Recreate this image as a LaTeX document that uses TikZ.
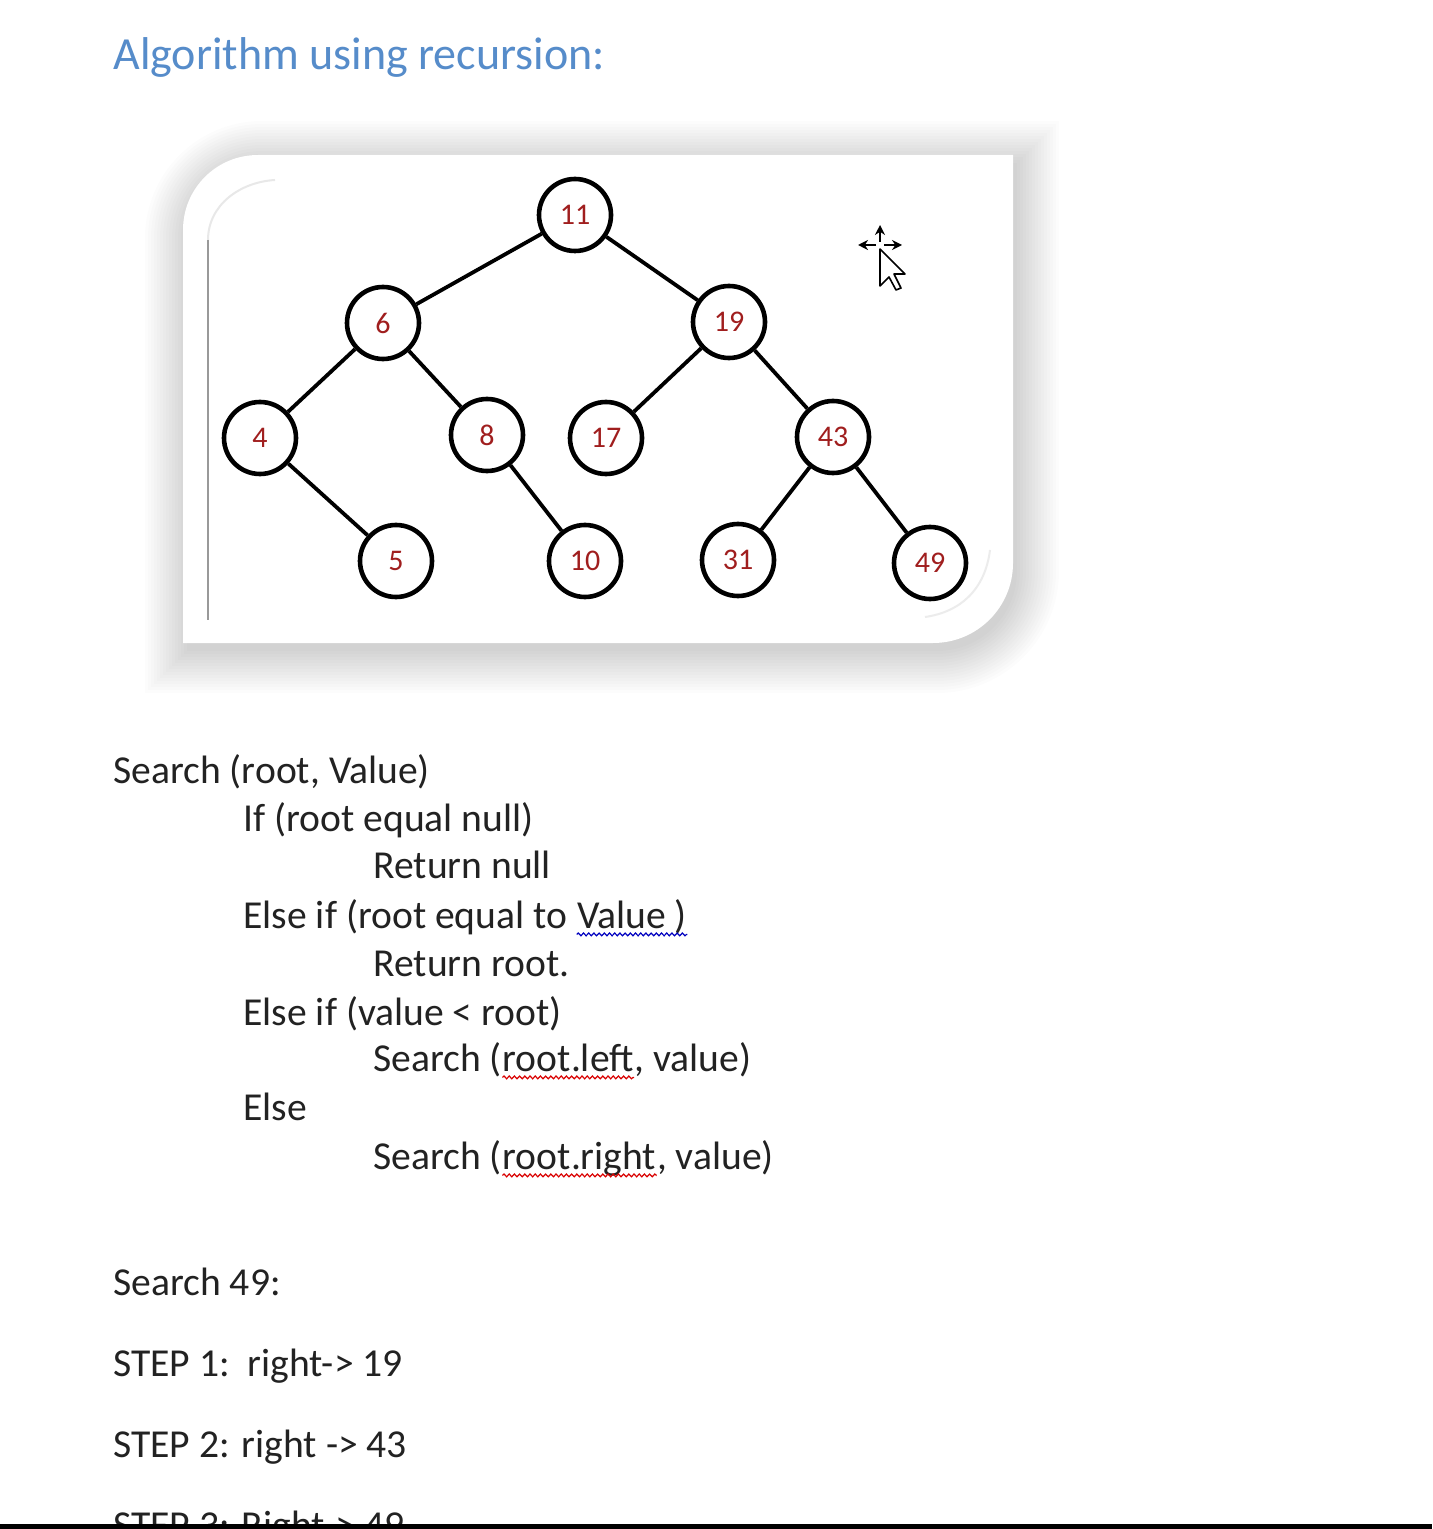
\documentclass[tikz,border=0pt]{standalone}
\usepackage{fontspec}
\setmainfont{Carlito}
\usetikzlibrary{arrows.meta,decorations.pathmorphing}
\definecolor{titleblue}{RGB}{86,140,202}
\definecolor{txt}{RGB}{34,34,34}
\definecolor{numred}{RGB}{160,30,30}
\tikzset{
  tn/.style={circle, draw=black, line width=2.3pt, minimum size=36pt, inner sep=0pt, fill=white,
             text=numred, font=\fontsize{15}{15}\selectfont},
  tedge/.style={line width=1.9pt, black},
  code/.style={anchor=base west, inner sep=0pt, text=txt, font=\fontsize{19.8}{24}\selectfont},
  squig/.style={line width=0.6pt, decorate, decoration={snake, amplitude=0.7pt, segment length=2.6pt}},
}
\begin{document}
\begin{tikzpicture}[x=0.5pt,y=-0.5pt]
\useasboundingbox (0,0) rectangle (1432,1529);
\fill[white] (0,0) rectangle (1432,1529);

% title
\node[anchor=base west, inner sep=0pt, text=titleblue, font=\fontsize{23}{28}\selectfont] (title) at (113,70) {Algorithm using recursion:};

% shadow of the picture frame
\foreach \d in {42,39,...,0}{
  \pgfmathsetmacro\xa{183-\d+4}
  \pgfmathsetmacro\ya{155-\d+8}
  \pgfmathsetmacro\xb{1013+\d+4}
  \pgfmathsetmacro\yb{643+\d+8}
  \pgfmathsetmacro\ra{75+\d}
  \pgfmathsetmacro\rb{80+\d}
  \pgfmathsetmacro\ka{0.448*\ra}
  \pgfmathsetmacro\kb{0.448*\rb}
  \fill[black,opacity=0.010] (\xa,\yb) -- (\xa,\ya+\ra) .. controls (\xa,\ya+\ka) and (\xa+\ka,\ya) .. (\xa+\ra,\ya) -- (\xb,\ya) -- (\xb,\yb-\rb) .. controls (\xb,\yb-\kb) and (\xb-\kb,\yb) .. (\xb-\rb,\yb) -- cycle;
}
% frame
\fill[white] (183,643) -- (183,230) .. controls (183,188.4) and (216.4,155) .. (258,155) -- (1013,155) -- (1013,563) .. controls (1013,607.2) and (977.2,643) .. (933,643) -- cycle;
\draw[gray!18, line width=1pt] (208,240) .. controls (208,205) and (240,182) .. (275,180);
\draw[gray!80, line width=1.2pt] (208,240) -- (208,620);
\draw[gray!15, line width=1pt] (990,550) .. controls (985,590) and (960,612) .. (925,617);

% tree
\node[tn] (n11) at (575,215) {11};
\node[tn] (n6)  at (383,323) {6};
\node[tn] (n19) at (729,322) {19};
\node[tn] (n4)  at (260,438) {4};
\node[tn] (n8)  at (487,435) {8};
\node[tn] (n17) at (606,438) {17};
\node[tn] (n43) at (833,437) {43};
\node[tn] (n5)  at (396,561) {5};
\node[tn] (n10) at (585,561) {10};
\node[tn] (n31) at (738,560) {31};
\node[tn] (n49) at (930,563) {49};
\draw[tedge] (n11) -- (n6);
\draw[tedge] (n11) -- (n19);
\draw[tedge] (n6) -- (n4);
\draw[tedge] (n6) -- (n8);
\draw[tedge] (n4) -- (n5);
\draw[tedge] (n8) -- (n10);
\draw[tedge] (n19) -- (n17);
\draw[tedge] (n19) -- (n43);
\draw[tedge] (n43) -- (n31);
\draw[tedge] (n43) -- (n49);

% mouse cursor
\draw[-{Stealth[length=5pt,width=5pt]}, line width=1pt] (880,242) -- (880,225);
\draw[-{Stealth[length=5pt,width=5pt]}, line width=1pt] (876,245) -- (858,245);
\draw[-{Stealth[length=5pt,width=5pt]}, line width=1pt] (884,245) -- (902,245);
\draw[black, fill=white, line width=0.8pt, line join=round] (880,249) -- ++(0,37) -- ++(9,-9) -- ++(7,13) -- ++(5,-2) -- ++(-7,-14) -- ++(11,0) -- cycle;

% algorithm text
\node[code] (c1) at (113,783) {Search (root, Value)};
\node[code] (c2) at (243,831) {If (root equal null)};
\node[code] (c3) at (373,878) {Return null};
\node[code] (c4a) at (243,928) {Else if (root equal to\ \hbox{}};
\node[code] (c4b) at (c4a.base east) {Value )};
\draw[squig, blue!75!black] ([yshift=-3.2pt]c4b.base west) -- ([yshift=-3.2pt]c4b.base east);
\node[code] (c5) at (373,976) {Return root.};
\node[code] (c6) at (243,1025) {Else if (value < root)};
\node[code] (c7a) at (373,1071) {Search (\hbox{}};
\node[code] (c7b) at (c7a.base east) {root.left};
\node[code] (c7c) at (c7b.base east) {, value)};
\draw[squig, red!85!black] ([yshift=-3.2pt]c7b.base west) -- ([yshift=-3.2pt]c7b.base east);
\node[code] (c8) at (243,1120) {Else};
\node[code] (c9a) at (373,1169) {Search (\hbox{}};
\node[code] (c9b) at (c9a.base east) {root.right};
\node[code] (c9c) at (c9b.base east) {, value)};
\draw[squig, red!85!black] ([yshift=-3.2pt]c9b.base west) -- ([yshift=-3.2pt]c9b.base east);
\node[code] (s0) at (113,1295) {Search 49:};
\node[code] (s1) at (113,1376) {STEP 1:\ \ right-> 19};
\node[code] (s2) at (113,1457) {STEP 2: right -> 43};
\begin{scope}
  \clip (0,1480) rectangle (1432,1524);
  \node[code] (s3) at (113,1538) {STEP 3: Right-> 49};
\end{scope}
\fill[black] (0,1524) rectangle (1432,1529);
\end{tikzpicture}
\end{document}
